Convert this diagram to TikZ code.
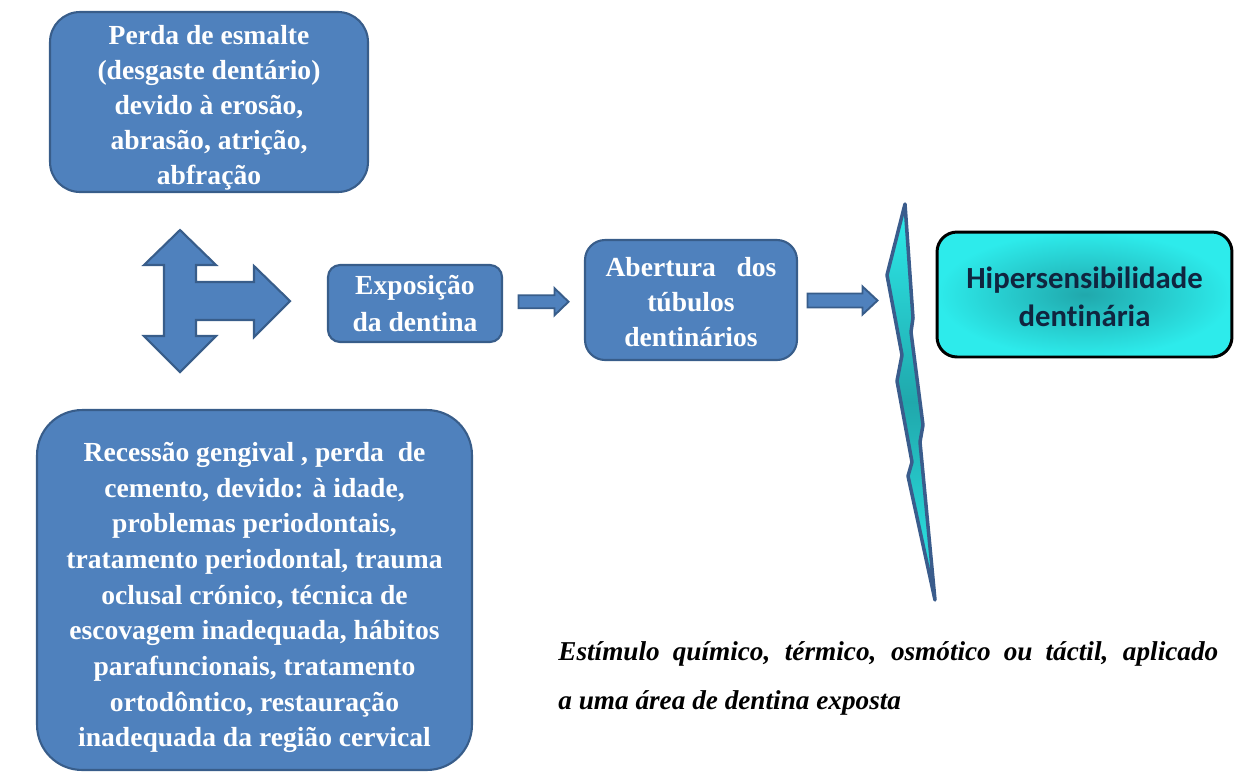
\documentclass[tikz,border=0pt]{standalone}
\usepackage{fontspec}
\setmainfont{Liberation Serif}
\newfontfamily\calibri[Ligatures=NoCommon]{Carlito}
\usepackage{tikz}
\definecolor{caixa}{RGB}{79,129,189}
\definecolor{borda}{RGB}{56,93,138}
\definecolor{ciano}{RGB}{45,235,235}
\definecolor{cianoescuro}{RGB}{32,168,172}
\definecolor{raioborda}{RGB}{58,92,140}
\definecolor{azulnoite}{RGB}{16,37,63}
\usetikzlibrary{calc}

\tikzset{
  bloco/.style={draw=borda, line width=1.2pt, fill=caixa, text=white, align=center,
    font=\bfseries\fontsize{15.7}{20}\selectfont, inner sep=0pt},
  seta/.style={draw=borda, line width=1.1pt, fill=caixa}
}

\begin{document}
\begin{tikzpicture}[x=0.02cm,y=-0.02cm]
        \useasboundingbox (0,0) rectangle (1235,779);

        \node[bloco, rounded corners=0.6cm, minimum width=6.36cm, minimum height=3.6cm] (esmalte) at (209,102)
            {\rule{0pt}{17.5pt}Perda de esmalte\\(desgaste dentário)\\devido à erosão,\\abrasão, atrição,\\abfração};
        \node[bloco, rounded corners=0.9cm, minimum width=8.7cm, minimum height=7.2cm,
              font=\bfseries\fontsize{15.7}{20.3}\selectfont] (recessao) at (254.5,590)
            {\rule{0pt}{19.5pt}Recessão gengival , perda\ \ de\\cemento, devido: à idade,\\problemas\ periodontais,\\
             tratamento periodontal,\ trauma\\oclusal crónico, técnica de\\escovagem inadequada,\ hábitos\\
             parafuncionais,\ tratamento\\ortodôntico, restauração\\inadequada\ da região cervical};
        \node[bloco, rounded corners=0.24cm, minimum width=3.48cm, minimum height=1.54cm,
              font=\bfseries\fontsize{15.7}{21}\selectfont] (exposicao) at (415,303.5)
            {Exposição\\da dentina};
        \node[bloco, rounded corners=0.4cm, minimum width=4.24cm, minimum height=2.4cm] (abertura) at (691,300)
            {\rule{0pt}{13.5pt}Abertura\ \ \ dos\\túbulos\\dentinários};
        \node[draw=black, line width=1.7pt, rounded corners=0.4cm, inner color=cianoescuro, outer color=ciano,
              minimum width=5.9cm, minimum height=2.5cm, text=azulnoite, align=center,
              font=\calibri\bfseries\fontsize{17.5}{21.5}\selectfont] (hiper) at (1084.5,294.5)
            {\rule{0pt}{15pt}Hipersensibilidade\\dentinária};

        \draw[draw=borda, line width=1.2pt, fill=caixa] (180,230) -- (216,265) -- (196,265) -- (196,282)
            -- (254,282) -- (254,266) -- (290,301) -- (254,337) -- (254,320) -- (196,320) -- (196,336)
            -- (216,336) -- (180,372) -- (144,336) -- (164,336) -- (164,265) -- (144,265) -- cycle;

        \draw[draw=raioborda, line width=2pt, line join=round, top color=ciano, bottom color=ciano,
              middle color=cianoescuro]
            (905,204) -- (913,318) -- (911,332) -- (923,425) -- (920,442) -- (935,600) -- (908,476)
            -- (912,462) -- (897,381) -- (902,355) -- (887,275) -- cycle;
        \coordinate (raio) at (887,301);

        \coordinate (seta1) at ($(exposicao.east)!0.5!(abertura.west)$);
        \coordinate (seta2) at ($(abertura.east)!0.5!(raio)$);
        \draw[seta, shift={(seta1)}] (-25,-6.5) -- (11,-6.5) -- (11,-13.5) -- (25,0) -- (11,13.5) -- (11,6.5)
            -- (-25,6.5) -- cycle;
        \draw[seta, shift={(seta2)}] (-35,-7) -- (20,-7) -- (20,-14) -- (35,0) -- (20,14) -- (20,7)
            -- (-35,7) -- cycle;

        \node[anchor=north west, text width=13.2cm, align=justify, inner sep=0pt,
              font=\bfseries\itshape\fontsize{15.5}{27.8}\selectfont] (estimulo) at (558,641)
            {Estímulo químico, térmico, osmótico ou táctil, aplicado\linebreak a uma área de dentina exposta};
    \end{tikzpicture}
\end{document}
